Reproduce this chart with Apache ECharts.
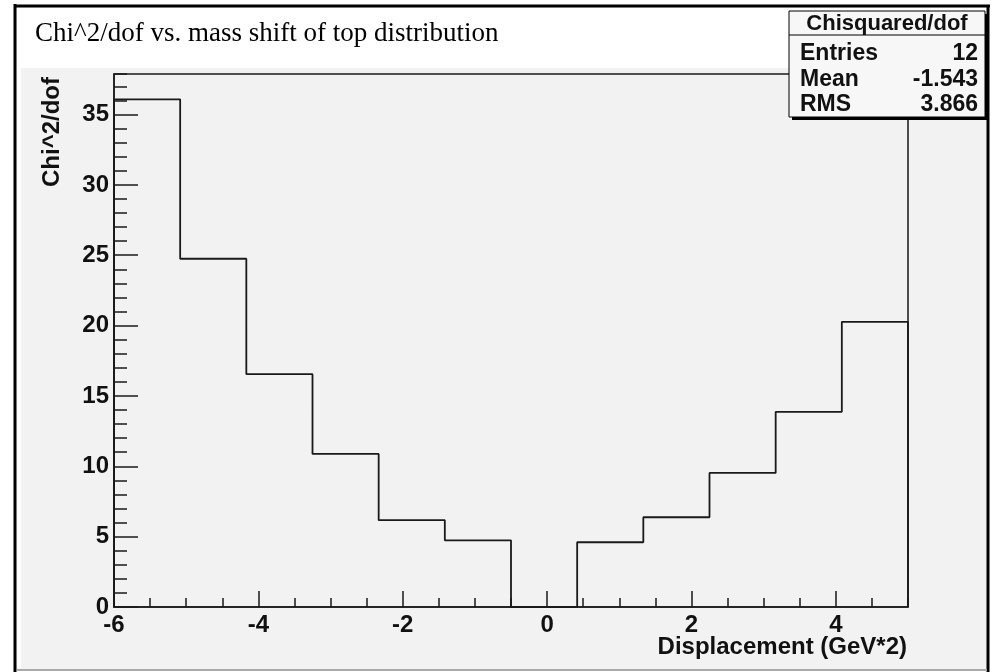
<!DOCTYPE html>
<html>
<head>
<meta charset="utf-8">
<script src="https://cdn.jsdelivr.net/npm/echarts@6/dist/echarts.min.js"></script>
<style>
  html, body { margin: 0; padding: 0; background: #ffffff; }
  #main { width: 1005px; height: 672px; }
</style>
</head>
<body>
<div id="main"></div>
<script>
var chartDom = document.getElementById('main');
var myChart = echarts.init(chartDom);

// histogram: 12 bins between -6 and 5
const xRange = [-6, 5];
const binValues = [36.08, 24.75, 16.55, 10.88, 6.17, 4.74, 0, 4.60, 6.38, 9.53, 13.87, 20.27];
const yMax = 37.88;
const statsTitle = 'Chisquared/dof';
const statsLabels = ['Entries', 'Mean', 'RMS'];
const statsValues = ['12', '-1.543', '3.866'];

// outline of the histogram from bin edges
const binWidth = (xRange[1] - xRange[0]) / binValues.length;
let outline = [[xRange[0], 0]];
binValues.forEach((v, i) => {
    outline.push([xRange[0] + i * binWidth, v]);
    outline.push([xRange[0] + (i + 1) * binWidth, v]);
});
outline.push([xRange[1], 0]);

const lineCol = '#1a1a1a';
const boldFont = 'Liberation Sans, Arial, sans-serif';
const tickLabel = { color: '#111', fontFamily: boldFont, fontWeight: 'bold', fontSize: 24 };

let graphics = [
    // canvas fill + frame
    { type: 'rect', shape: { x: 15, y: 6, width: 973, height: 664 }, style: { fill: '#f2f2f2' }, z: -10 },
    { type: 'rect', shape: { x: 17, y: 8, width: 4, height: 660 }, style: { fill: '#ffffff' }, z: -9 },
    { type: 'rect', shape: { x: 17, y: 8, width: 970, height: 60 }, style: { fill: '#ffffff' }, z: -9 },
    { type: 'line', shape: { x1: 15, y1: 4, x2: 15, y2: 672 }, style: { stroke: '#000', lineWidth: 3 } },
    { type: 'line', shape: { x1: 14, y1: 6, x2: 990, y2: 6 }, style: { stroke: '#000', lineWidth: 3 } },
    { type: 'line', shape: { x1: 988, y1: 5, x2: 988, y2: 672 }, style: { stroke: '#000', lineWidth: 3 } },
    { type: 'line', shape: { x1: 17, y1: 670, x2: 987, y2: 670 }, style: { stroke: '#aaa', lineWidth: 2 } },
    // title
    { type: 'text', x: 35, y: 34, style: { text: 'Chi^2/dof vs. mass shift of top distribution', fill: '#000',
        font: '27px "Liberation Serif", "Times New Roman", serif', verticalAlign: 'middle' } },
    // axis titles
    { type: 'text', x: 52, y: 77, rotation: Math.PI / 2, style: { text: 'Chi^2/dof', fill: '#111',
        font: 'bold 24px ' + boldFont, align: 'right', verticalAlign: 'middle' } },
    { type: 'text', x: 907, y: 647, style: { text: 'Displacement (GeV*2)', fill: '#111',
        font: 'bold 24px ' + boldFont, align: 'right', verticalAlign: 'middle' } },
    // stats box
    { type: 'rect', shape: { x: 792, y: 14, width: 196, height: 106 }, style: { fill: '#000' }, z: 5 },
    { type: 'rect', shape: { x: 789, y: 11, width: 196, height: 106 }, style: { fill: '#f7f7f7', stroke: '#000', lineWidth: 1 }, z: 6 },
    { type: 'line', shape: { x1: 789, y1: 35, x2: 985, y2: 35 }, style: { stroke: '#000', lineWidth: 1 }, z: 7 },
    { type: 'text', x: 887, y: 24, z: 7, style: { text: statsTitle, fill: '#111', font: 'bold 22px ' + boldFont,
        align: 'center', verticalAlign: 'middle' } }
];
statsLabels.forEach((lab, i) => {
    let y = 54 + i * 25.5;
    graphics.push({ type: 'text', x: 800, y: y, z: 7, style: { text: lab, fill: '#111', font: 'bold 23px ' + boldFont,
        verticalAlign: 'middle' } });
    graphics.push({ type: 'text', x: 978, y: y, z: 7, style: { text: statsValues[i], fill: '#111', font: 'bold 23px ' + boldFont,
        align: 'right', verticalAlign: 'middle' } });
});

var option = {
    animation: false,
    grid: {
        left: 114, right: 97, top: 74, bottom: 65,
        show: true, borderColor: lineCol, borderWidth: 1.5, backgroundColor: '#f2f2f2'
    },
    xAxis: [{
        type: 'value', min: xRange[0], max: xRange[1], interval: 2,
        axisLine: { onZero: false, lineStyle: { color: lineCol, width: 1.5 } },
        axisTick: { inside: true, length: 16, lineStyle: { color: lineCol, width: 1.5 } },
        axisLabel: Object.assign({ margin: 6, showMaxLabel: false }, tickLabel),
        splitLine: { show: false }
    }, {
        type: 'value', position: 'bottom', min: xRange[0], max: xRange[1], interval: 0.5,
        axisLine: { show: false, onZero: false },
        axisTick: { inside: true, length: 9, lineStyle: { color: lineCol, width: 1.5 } },
        axisLabel: { show: false }, splitLine: { show: false }
    }],
    yAxis: [{
        type: 'value', min: 0, max: yMax, interval: 5,
        axisLine: { show: true, onZero: false, lineStyle: { color: lineCol, width: 1.5 } },
        axisTick: { show: true, inside: true, length: 24, lineStyle: { color: lineCol, width: 1.5 } },
        axisLabel: Object.assign({ margin: 5, showMaxLabel: false }, tickLabel),
        splitLine: { show: false }
    }, {
        type: 'value', position: 'left', min: 0, max: yMax, interval: 1,
        axisLine: { show: false, onZero: false },
        axisTick: { show: true, inside: true, length: 13, lineStyle: { color: lineCol, width: 1.5 } },
        axisLabel: { show: false }, splitLine: { show: false }
    }],
    series: [{
        type: 'line', xAxisIndex: 0, yAxisIndex: 0,
        data: outline, symbol: 'none', clip: false,
        lineStyle: { color: lineCol, width: 1.8 }
    }],
    graphic: graphics
};
option && myChart.setOption(option);
</script>
</body>
</html>
